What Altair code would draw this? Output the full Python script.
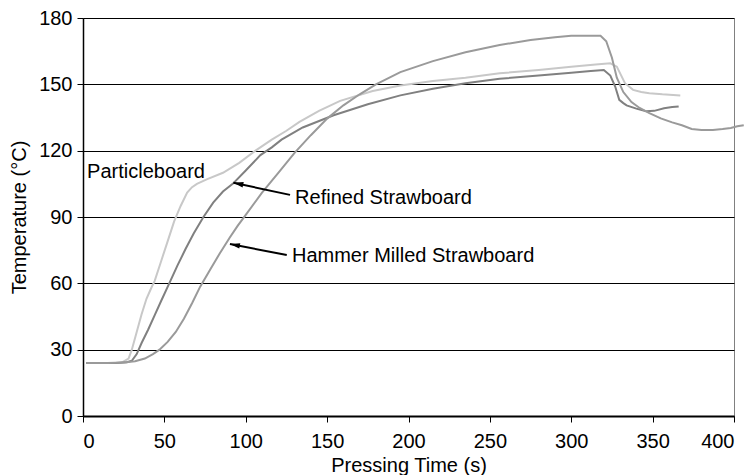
import altair as alt
import pandas as pd

FONT = "Liberation Sans"

# ---------------- data ----------------
series_names = ["Particleboard", "Refined Strawboard", "Hammer Milled Strawboard"]
series_colors = ["#c8c8c8", "#808080", "#9a9a9a"]

pb_t = [2, 10, 20, 24, 28, 30, 33, 36, 39, 42, 44, 48, 52, 56, 60, 64, 67, 70, 76, 86,
        96, 106, 116, 125, 133, 145, 158, 178, 195, 215, 235, 256, 280, 300, 315, 324,
        328, 333, 338, 343, 348, 356, 367]
pb_T = [24, 24, 24, 24.3, 26, 30, 38, 46, 53, 58, 61, 70, 79, 88, 95, 101, 103.5, 105,
        107, 110, 114.5, 120, 125, 129, 133, 138, 142.5, 147, 149.5, 151.5, 153, 155,
        156.5, 158, 159, 159.5, 158, 150.5, 147.5, 146.5, 146, 145.5, 145]

rf_t = [2, 10, 20, 27, 30, 33, 36, 40, 44, 48, 53, 58, 63, 68, 74, 80, 86, 92, 100, 109,
        116, 122, 135, 154, 175, 195, 215, 235, 256, 280, 300, 312, 320, 324, 327, 329.5,
        332, 334, 340, 346, 351, 357, 362, 366]
rf_T = [24, 24, 24, 24.3, 25, 28, 33, 39, 45.5, 52, 60, 68, 75.5, 82.5, 90, 96.5, 101.5,
        105, 111, 118, 121.5, 125, 130.5, 136, 141, 145, 148, 150.5, 152.5, 154, 155.2,
        156, 156.5, 154, 149, 143, 141.5, 140.5, 139, 137.8, 138, 139.2, 139.7, 140]

hm_t = [2, 15, 25, 32, 38, 43, 47, 52, 57, 62, 67, 72, 78, 84, 90, 95, 100, 110, 120,
        130, 140, 150, 160, 170, 180, 195, 215, 235, 256, 275, 290, 300, 310, 318, 321.5,
        325, 328, 332, 337, 342, 348, 355, 362, 368, 374, 380, 387, 393, 398, 402, 406]
hm_T = [24, 24, 24.2, 24.8, 26, 28, 30, 33.5, 38, 44, 51, 58.5, 66, 73.5, 80.5, 86, 91,
        101, 110, 119, 127, 134.5, 140.5, 145.5, 150, 155.5, 160.5, 164.5, 167.8, 170,
        171.3, 172, 172, 172, 169.5, 162, 153, 146.5, 142, 139.3, 137, 134.6, 132.8,
        131.5, 129.8, 129.3, 129.4, 129.8, 130.3, 131, 131.5]

x_ticks = [0, 50, 100, 150, 200, 250, 300, 350, 400]
y_ticks = [0, 30, 60, 90, 120, 150, 180]

# annotations: label text and position (data units)
label_text = ["Particleboard", "Refined Strawboard", "Hammer Milled Strawboard"]
label_t = [2.5, 130.3, 128.4]
label_T = [110.4, 98.6, 72.4]

# arrows: tail -> tip (data units)
arrow_t0 = [127.2, 125.2]
arrow_T0 = [100.0, 72.8]
arrow_t1 = [92.4, 90.3]
arrow_T1 = [105.5, 77.8]
arrow_angle = [282, 281]

# ---------------- tables ----------------
rows = []
for name, ts, Ts in zip(series_names, [pb_t, rf_t, hm_t], [pb_T, rf_T, hm_T]):
    for t, T in zip(ts, Ts):
        rows.append({"series": name, "t": t, "T": T})
df = pd.DataFrame(rows)

lab_df = pd.DataFrame({"text": label_text, "t": label_t, "T": label_T})
arr_df = pd.DataFrame({"t0": arrow_t0, "T0": arrow_T0, "t1": arrow_t1,
                       "T1": arrow_T1, "angle": arrow_angle})

xscale = alt.Scale(domain=[0, 400], nice=False)
yscale = alt.Scale(domain=[0, 180], nice=False)

xaxis = alt.Axis(values=x_ticks, title="Pressing Time (s)", grid=False,
                 domainColor="#000000", domainWidth=2, tickColor="#000000",
                 tickSize=6, tickWidth=1, labelPadding=9, titlePadding=4)
yaxis = alt.Axis(values=y_ticks, title="Temperature (°C)", grid=True,
                 gridColor="#000000", gridWidth=1, gridOpacity=1,
                 domainColor="#000000", domainWidth=1.5, tickColor="#000000",
                 tickSize=6, tickWidth=1, labelPadding=5, titlePadding=9)

lines = alt.Chart(df).mark_line(strokeWidth=2).encode(
    x=alt.X("t:Q", scale=xscale, axis=xaxis),
    y=alt.Y("T:Q", scale=yscale, axis=yaxis),
    color=alt.Color("series:N", scale=alt.Scale(domain=series_names, range=series_colors),
                    legend=None),
    order=alt.Order("t:Q"),
)

texts = alt.Chart(lab_df).mark_text(align="left", baseline="middle", font=FONT,
                                    fontSize=20, color="#000000").encode(
    x=alt.X("t:Q", scale=xscale), y=alt.Y("T:Q", scale=yscale), text="text:N")

shafts = alt.Chart(arr_df).mark_rule(color="#000000", strokeWidth=2).encode(
    x=alt.X("t0:Q", scale=xscale), y=alt.Y("T0:Q", scale=yscale),
    x2="t1:Q", y2="T1:Q")

heads = alt.Chart(arr_df).mark_point(
    shape="M0,0L0.55,2L-0.55,2Z", filled=True, color="#000000", opacity=1, size=100
).encode(x=alt.X("t1:Q", scale=xscale), y=alt.Y("T1:Q", scale=yscale),
         angle=alt.Angle("angle:Q", scale=None))

chart = alt.layer(lines, shafts, heads, texts).properties(
    width=651, height=398,
    autosize=alt.AutoSizeParams(type="none"),
    padding={"left": 83, "top": 18, "right": 19, "bottom": 59},
    background="#ffffff",
).configure_view(stroke="#808080", strokeWidth=1).configure_axis(
    labelFont=FONT, labelFontSize=20, labelColor="#000000",
    titleFont=FONT, titleFontSize=20, titleFontWeight="normal", titleColor="#000000",
)

chart.save("out.html", embed_options={"renderer": "svg", "actions": False})
